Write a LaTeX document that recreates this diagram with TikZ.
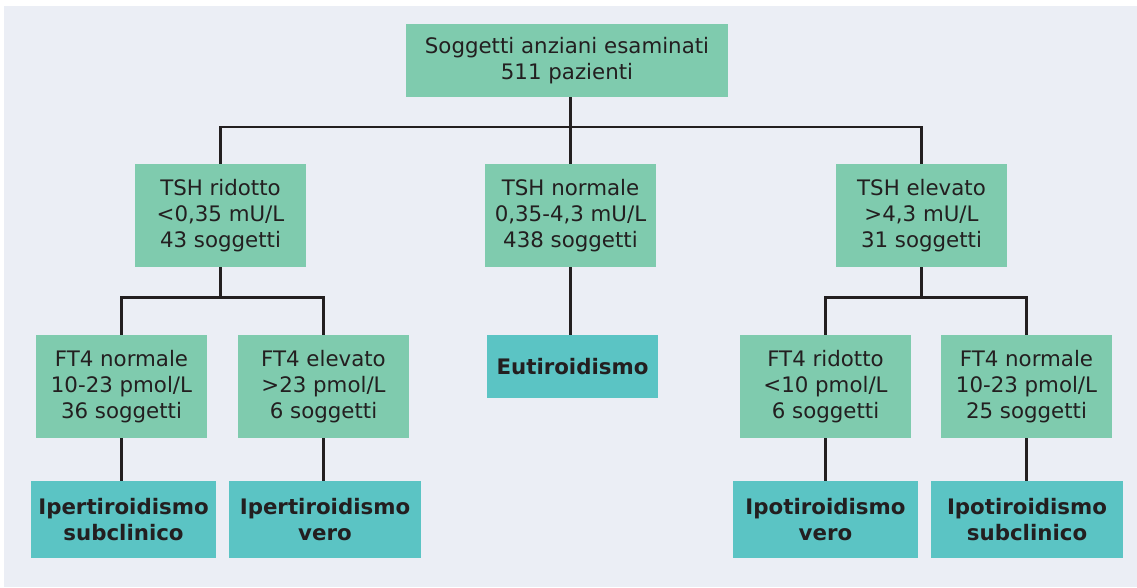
\documentclass[tikz,border=0pt]{standalone}
\usepackage{fontspec}
\setmainfont{DejaVu Sans}
\definecolor{panel}{HTML}{EBEEF5}
\definecolor{boxgreen}{HTML}{7FCBAE}
\definecolor{boxteal}{HTML}{5BC4C4}
\definecolor{ink}{HTML}{231F20}
\tikzset{
    databox/.style = {fill = boxgreen, text = ink, align = center, inner sep = 0pt, minimum width = 128.25pt, minimum height = 77.25pt, font = \fontsize{16}{19.5}\selectfont},
    resultbox/.style = {fill = boxteal, text = ink, align = center, inner sep = 0pt, minimum height = 57.75pt, font = \fontsize{16}{19.5}\selectfont\bfseries},
    link/.style = {draw = ink, line width = 2pt}
}
\begin{document}
\begin{tikzpicture}[x = 0.75pt, y = -0.75pt]
        \fill[white] (0, 0) rectangle (1137, 587);
        \fill[panel] (4, 6) rectangle (1137, 587);
        \useasboundingbox (0, 0) rectangle (1137, 587);
        \node[databox, minimum width = 241.5pt, minimum height = 54.75pt] (root) at (567, 60.5) {Soggetti anziani esaminati\\511 pazienti};
        \node[databox] (tr) at (220.5, 215.5) {TSH ridotto\\<0,35 mU/L\\43 soggetti};
        \node[databox] (tn) at (570.5, 215.5) {TSH normale\\0,35-4,3 mU/L\\438 soggetti};
        \node[databox] (te) at (921.5, 215.5) {TSH elevato\\>4,3 mU/L\\31 soggetti};
        \node[databox] (fn1) at (121.5, 386.5) {FT4 normale\\10-23 pmol/L\\36 soggetti};
        \node[databox] (fe) at (323.5, 386.5) {FT4 elevato\\>23 pmol/L\\6 soggetti};
        \node[databox] (fr) at (825.5, 386.5) {FT4 ridotto\\<10 pmol/L\\6 soggetti};
        \node[databox] (fn2) at (1026.5, 386.5) {FT4 normale\\10-23 pmol/L\\25 soggetti};
        \node[resultbox, minimum width = 128.25pt, minimum height = 47.25pt] (eu) at (572.5, 366.5) {Eutiroidismo};
        \node[resultbox, minimum width = 138.75pt] (is) at (123.5, 519.5) {Ipertiroidismo\\subclinico};
        \node[resultbox, minimum width = 144pt] (iv) at (325, 519.5) {Ipertiroidismo\\vero};
        \node[resultbox, minimum width = 138.75pt] (ov) at (825.5, 519.5) {Ipotiroidismo\\vero};
        \node[resultbox, minimum width = 144pt] (os) at (1027, 519.5) {Ipotiroidismo\\subclinico};
        % connectors
        \coordinate (bus) at (0, 127);
        \coordinate (busl) at (0, 297.7);
        \draw[link] (root.south -| tn.north) -- (tn.north);
        \draw[link] (tr.north) -- (tr.north |- bus) -- (te.north |- bus) -- (te.north);
        \draw[link] (tr.south) -- (tr.south |- busl);
        \draw[link] (fn1.north) -- (fn1.north |- busl) -- (fe.north |- busl) -- (fe.north);
        \draw[link] (te.south) -- (te.south |- busl);
        \draw[link] (fr.north) -- (fr.north |- busl) -- (fn2.north |- busl) -- (fn2.north);
        \draw[link] (tn.south) -- (tn.south |- eu.north);
        \draw[link] (fn1.south) -- (fn1.south |- is.north);
        \draw[link] (fe.south) -- (fe.south |- iv.north);
        \draw[link] (fr.south) -- (fr.south |- ov.north);
        \draw[link] (fn2.south) -- (fn2.south |- os.north);
    \end{tikzpicture}
\end{document}
